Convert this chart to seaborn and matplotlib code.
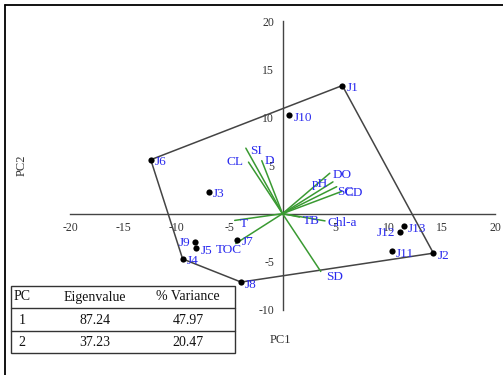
import numpy as np
import pandas as pd
import matplotlib
matplotlib.use("Agg")
import matplotlib.pyplot as plt
from matplotlib.lines import Line2D
import seaborn as sns

# Site scores on the first two principal components
sites = ["J1", "J2", "J3", "J4", "J5", "J6", "J7", "J8", "J9", "J10", "J11", "J12", "J13"]
pc1_scores = [5.63, 14.2, -6.9, -9.4, -8.1, -12.4, -4.25, -3.9, -8.2, 0.64, 10.3, 11.05, 11.4]
pc2_scores = [13.3, -4.1, 2.25, -4.7, -3.6, 5.6, -2.7, -7.1, -2.9, 10.2, -3.9, -1.9, -1.3]

# Variable loadings (biplot vectors)
variables = ["SI", "CL", "D", "T", "TOC", "TB", "Chl-a", "SD", "DO", "pH", "SC", "CD"]
pc1_load = [-3.45, -3.2, -1.95, -4.5, -4.4, 1.6, 4.0, 3.6, 4.45, 4.75, 5.1, 5.55]
pc2_load = [6.8, 5.35, 5.5, -0.7, -3.1, -0.35, -0.75, -6.0, 4.2, 3.3, 2.8, 2.3]

# Eigenvalue summary
pc_ids = ["1", "2"]
eigenvalues = ["87.24", "37.23"]
pct_variance = ["47.97", "20.47"]

x_ticks = [-20, -15, -10, -5, 5, 10, 15, 20]
y_ticks = [-10, -5, 5, 10, 15, 20]

sns.set_style("white")
plt.rcParams["font.family"] = ["Liberation Serif", "DejaVu Serif"]
plt.rcParams["axes.unicode_minus"] = False

fig = plt.figure(figsize=(5.03, 3.75), dpi=100)
ax = fig.add_axes([70 / 503, 65 / 375, 425 / 503, 289 / 375])
ax.set_facecolor("none")

scores = pd.DataFrame({"site": sites, "PC1": pc1_scores, "PC2": pc2_scores})


def convex_hull(points):
    pts = sorted(set(points))
    if len(pts) <= 2:
        return pts

    def cross(o, a, b):
        return (a[0] - o[0]) * (b[1] - o[1]) - (a[1] - o[1]) * (b[0] - o[0])

    lower, upper = [], []
    for p in pts:
        while len(lower) >= 2 and cross(lower[-2], lower[-1], p) <= 0:
            lower.pop()
        lower.append(p)
    for p in reversed(pts):
        while len(upper) >= 2 and cross(upper[-2], upper[-1], p) <= 0:
            upper.pop()
        upper.append(p)
    return lower[:-1] + upper[:-1]


hull = convex_hull(list(zip(pc1_scores, pc2_scores)))
hull.append(hull[0])
hx, hy = zip(*hull)
ax.plot(hx, hy, color="#444444", lw=1.1, zorder=2)

# Loading vectors
blue = "#2a2aee"
for v, lx, ly in zip(variables, pc1_load, pc2_load):
    ax.plot([0, lx], [0, ly], color="#3a9a32", lw=1.1, zorder=3)

var_offsets = {
    "SI": (4, -3, "left"), "CL": (-5, 0, "right"), "D": (3, 0, "left"),
    "T": (5, -4, "left"), "TOC": (-7, -6, "center"), "TB": (3, -4, "left"),
    "Chl-a": (3, -2, "left"), "SD": (5, -6, "left"), "DO": (3, -2, "left"),
    "pH": (-5, -2, "right"), "SC": (0, -5, "left"), "CD": (3, -1.5, "left"),
}
for v, lx, ly in zip(variables, pc1_load, pc2_load):
    dx, dy, ha = var_offsets[v]
    ax.annotate(v, (lx, ly), xytext=(dx, dy), textcoords="offset pixels",
                ha=ha, va="center", color=blue, fontsize=9.5, zorder=5)

# Site points
sns.scatterplot(data=scores, x="PC1", y="PC2", color="black", s=20,
                edgecolor="black", linewidth=0, ax=ax, zorder=4, legend=False)

left_labels = {"J9": (-5, -1), "J12": (-5, -1)}
for s, x, y in zip(sites, pc1_scores, pc2_scores):
    if s in left_labels:
        dx, dy = left_labels[s]
        ha = "right"
    else:
        dx, dy = 4, -2.5
        ha = "left"
    ax.annotate(s, (x, y), xytext=(dx, dy), textcoords="offset pixels",
                ha=ha, va="center", color=blue, fontsize=9.5, zorder=5)

# Axes crossing at the origin
ax.set_xlim(-20, 20)
ax.set_ylim(-10, 20)
for side in ("top", "right"):
    ax.spines[side].set_visible(False)
ax.spines["left"].set_position(("data", 0))
ax.spines["bottom"].set_position(("data", 0))
for side in ("left", "bottom"):
    ax.spines[side].set_color("#444444")
    ax.spines[side].set_linewidth(1.0)
ax.set_xticks(x_ticks)
ax.set_yticks(y_ticks)
ax.set_xticklabels([str(t) for t in x_ticks])
ax.set_yticklabels([str(t) for t in y_ticks])
ax.tick_params(direction="out", length=4, width=0.9, color="#444444",
               labelsize=8.5, labelcolor="#333333", pad=2)
ax.set_xlabel("")
ax.set_ylabel("")

# Axis titles
fig.text(280 / 503, 1 - 340 / 375, "PC1", ha="center", va="center",
         fontsize=9, color="#333333")
fig.text(22 / 503, 1 - 165 / 375, "PC2", ha="center", va="center",
         rotation=90, fontsize=9, color="#333333")

# Eigenvalue table
W, H = 503, 375
def fx(px):
    return px / W
def fy(py):
    return 1 - py / H

tl, tr, tt, tb = 11, 235, 286, 353
row_lines = [308, 331]
fig.add_artist(plt.Rectangle((fx(tl), fy(tb)), fx(tr) - fx(tl), fy(tt) - fy(tb),
                             fill=False, edgecolor="#333333", lw=1.0,
                             transform=fig.transFigure))
for ry in row_lines:
    fig.add_artist(Line2D([fx(tl), fx(tr)], [fy(ry), fy(ry)], color="#333333",
                          lw=1.0, transform=fig.transFigure))
col_x = [22, 95, 188]
header = ["PC", "Eigenvalue", "% Variance"]
row_y = [297, 320, 342]
for cx, txt in zip(col_x, header):
    fig.text(fx(cx), fy(row_y[0]), txt, ha="center", va="center", fontsize=10,
             color="#111111")
for ry, a, b, c in zip(row_y[1:], pc_ids, eigenvalues, pct_variance):
    for cx, txt in zip(col_x, (a, b, c)):
        fig.text(fx(cx), fy(ry), txt, ha="center", va="center", fontsize=10,
                 color="#111111")

# Frame edges
fig.add_artist(Line2D([fx(4.5), fx(4.5)], [0, fy(4.5)], color="black", lw=1.3,
                      transform=fig.transFigure))
fig.add_artist(Line2D([fx(4.5), 1], [fy(4.5), fy(4.5)], color="black", lw=1.3,
                      transform=fig.transFigure))

fig.savefig("out.png", dpi=100, facecolor="white")
